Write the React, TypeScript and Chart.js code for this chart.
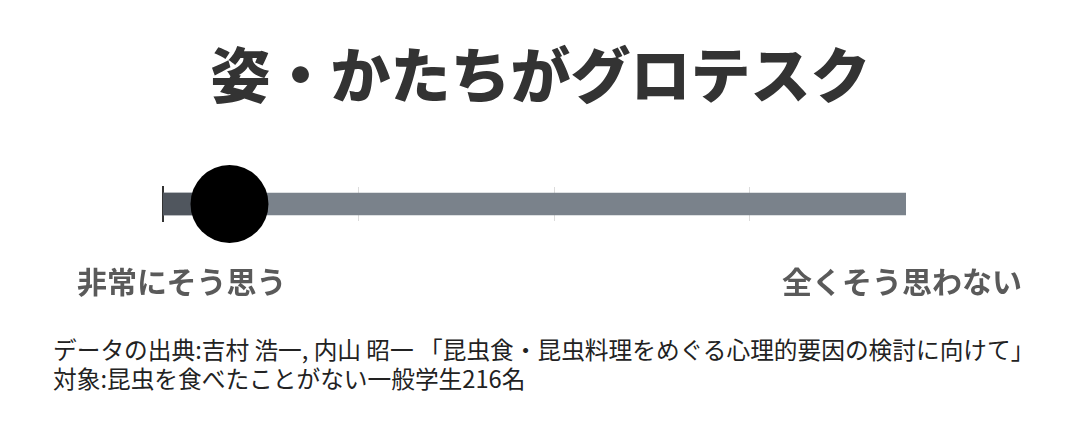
import React, { useEffect, useRef } from 'react';
import { Chart, registerables } from 'chart.js';

Chart.register(...registerables);

// 1 = 非常にそう思う ... right end = 全くそう思わない
const categories = ['姿・かたちがグロテスク'];
const scaleMin = 1;
const scaleMax = 4.8;
const rangeBar: [number, number][] = [[1, 4.8]];
const meanBar: [number, number][] = [[1, 1.34]];
const meanScore = [1.34];

const leftLabel = '非常にそう思う';
const rightLabel = '全くそう思わない';
const sourceLines = [
  'データの出典:吉村 浩一, 内山 昭一 「昆虫食・昆虫料理をめぐる心理的要因の検討に向けて」',
  '対象:昆虫を食べたことがない一般学生216名',
];

const JP_FONT = '"Noto Sans CJK JP", "Noto Sans", sans-serif';

const App: React.FC = () => {
  const canvasRef = useRef<HTMLCanvasElement>(null);
  const chartRef = useRef<Chart | null>(null);

  useEffect(() => {
    if (!canvasRef.current) return;
    const ctx = canvasRef.current.getContext('2d');
    if (!ctx) return;

    chartRef.current = new Chart(ctx, {
      type: 'bar',
      data: {
        labels: categories,
        datasets: [
          {
            type: 'line',
            data: meanScore.map((v, i) => ({ x: v, y: categories[i] })),
            showLine: false,
            pointRadius: 39,
            pointHoverRadius: 39,
            pointBackgroundColor: '#000000',
            pointBorderWidth: 0,
            clip: false,
            indexAxis: 'y',
            order: 0,
          } as any,
          {
            data: meanBar as any,
            backgroundColor: '#50565e',
            barThickness: 22,
            grouped: false,
            order: 1,
          } as any,
          {
            data: rangeBar as any,
            backgroundColor: '#7a828b',
            barThickness: 22,
            grouped: false,
            order: 2,
          } as any,
        ],
      },
      options: {
        indexAxis: 'y',
        animation: false,
        responsive: false,
        maintainAspectRatio: false,
        layout: { padding: { left: 163, right: 163, top: 47, bottom: 38 } },
        plugins: {
          legend: { display: false },
          tooltip: { enabled: false },
        },
        scales: {
          x: {
            type: 'linear',
            min: scaleMin,
            max: scaleMax,
            ticks: { display: false, stepSize: 1 },
            border: { display: false },
            grid: {
              drawTicks: false,
              color: (c: any) =>
                c.tick && (c.tick.value === scaleMin || c.tick.value === scaleMax)
                  ? 'rgba(0,0,0,0)'
                  : '#dcdcdc',
            },
          },
          y: {
            ticks: { display: false },
            grid: { display: false, drawTicks: false },
            border: { display: true, color: '#333333', width: 2 },
          },
        },
      } as any,
    });

    return () => {
      if (chartRef.current) {
        chartRef.current.destroy();
        chartRef.current = null;
      }
    };
  }, []);

  return (
    <div
      style={{
        position: 'absolute',
        left: 0,
        top: 0,
        width: 1069,
        height: 430,
        background: '#ffffff',
        fontFamily: JP_FONT,
        overflow: 'hidden',
      }}
    >
      <div
        style={{
          position: 'absolute',
          left: 0,
          width: 1069,
          top: 30,
          textAlign: 'center',
          fontSize: 60,
          fontWeight: 900,
          lineHeight: '84px',
          color: '#333333',
          paddingLeft: 12,
          boxSizing: 'border-box',
        }}
      >
        {categories[0]}
      </div>
      <canvas
        ref={canvasRef}
        width={1069}
        height={120}
        style={{ position: 'absolute', left: 0, top: 140, width: 1069, height: 120 }}
      />
      <div
        style={{
          position: 'absolute',
          left: 77,
          top: 260,
          fontSize: 30,
          fontWeight: 700,
          lineHeight: '40px',
          color: '#5a5a5a',
          whiteSpace: 'nowrap',
        }}
      >
        {leftLabel}
      </div>
      <div
        style={{
          position: 'absolute',
          left: 782,
          top: 260,
          fontSize: 30,
          fontWeight: 700,
          lineHeight: '40px',
          color: '#5a5a5a',
          whiteSpace: 'nowrap',
        }}
      >
        {rightLabel}
      </div>
      <div
        style={{
          position: 'absolute',
          left: 53,
          top: 335,
          fontSize: 23.7,
          lineHeight: '29px',
          color: '#222222',
          whiteSpace: 'nowrap',
        }}
      >
        {sourceLines.map((s) => (
          <div key={s}>{s}</div>
        ))}
      </div>
    </div>
  );
};

export default App;
